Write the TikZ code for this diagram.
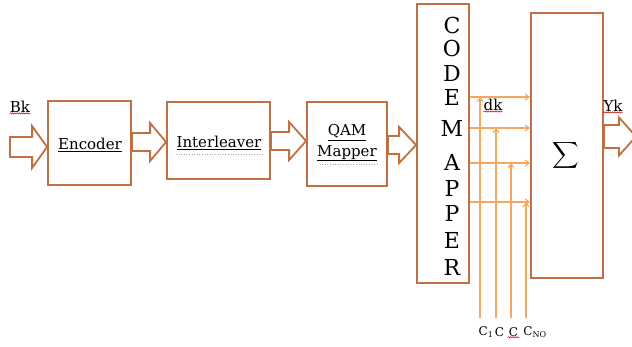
\documentclass[tikz,border=0pt]{standalone}
\usepackage{fontspec}
\usepackage{graphicx}
\setmainfont{DejaVu Serif}
\usetikzlibrary{calc,arrows.meta,decorations.pathmorphing}

\definecolor{boxline}{RGB}{192,112,66}
\definecolor{sigline}{RGB}{244,166,98}

\tikzset{
  block/.style={draw=boxline, line width=1.8pt, fill=white, inner sep=0pt},
  fat/.style={draw=boxline, line width=1.8pt, fill=white, line join=miter},
  sig/.style={draw=sigline, line width=1.1pt, -{Straight Barb[length=4pt,width=6pt]}},
  lbl/.style={inner sep=1pt, font=\fontsize{15}{17}\selectfont},
  blocktext/.style={font=\fontsize{15}{20}\selectfont, align=center},
  spell/.style={draw=red!80!black, line width=0.5pt,
    decorate, decoration={snake, amplitude=0.6pt, segment length=2.2pt}},
  grammar/.style={draw=gray!70, line width=0.6pt, dotted}
}

% hollow block arrow: start, tip, centre y, shaft half-width, head half-width, head length
\newcommand\fatarrow[6]{%
  \draw[fat] let \p1=#1, \p2=#2 in
    (\x1,#3pt-#4pt) -- (\x2-#6pt,#3pt-#4pt) -- (\x2-#6pt,#3pt-#5pt) --
    (\x2,#3pt) -- (\x2-#6pt,#3pt+#5pt) -- (\x2-#6pt,#3pt+#4pt) --
    (\x1,#3pt+#4pt) -- cycle;}

\begin{document}
\begin{tikzpicture}[x=1pt,y=1pt]
\useasboundingbox (0,0) rectangle (632,347);

% processing blocks
\node[block, minimum width=83pt, minimum height=84pt] (enc) at (89.5,204) {};
\node[block, minimum width=103pt, minimum height=77pt] (intl) at (218.5,206.5) {};
\node[block, minimum width=80pt, minimum height=84pt] (qam) at (347,203) {};
\node[block, minimum width=52pt, minimum height=279pt] (cm) at (443,203.5) {};
\node[block, minimum width=72pt, minimum height=265pt] (sum) at (567,201.5) {};

% block captions
\node[blocktext] (enct) at (90,202) {\underline{Encoder}};
\node[blocktext] (intt) at (219,204) {\underline{Interleaver}};
\node[blocktext] (qamt) at (347,204) {\underline{QAM}\\\underline{Mapper}};
\draw[grammar] ([xshift=3pt,yshift=-1pt]intt.south west) -- ([xshift=-3pt,yshift=-1pt]intt.south east);
\draw[grammar] ([xshift=6pt,yshift=0pt]qamt.south west) -- ([xshift=-3pt,yshift=0pt]qamt.south east);

% vertical caption of the code mapper
\foreach \ch/\yy [count=\i] in {C/25,O/48,D/73,E/97,M/128,A/162,P/188,P/213,E/240,R/267}
  \node[font=\fontsize{22}{24}\selectfont, inner sep=0pt] (cmL\i) at (452,347-\yy) {\ch};

% summation symbol
\node[inner sep=0pt] (sig) at (566,192) {\scalebox{1.85}{$\displaystyle\sum$}};

% hollow data-flow arrows
\coordinate (bkin) at (10,200);
\coordinate (ykout) at (636,210.5);
\fatarrow{(bkin)}{(enc.west)}{200}{10}{21}{15}
\fatarrow{(enc.east)}{(intl.west)}{205}{9}{19}{16}
\fatarrow{(intl.east)}{(qam.west)}{206}{9}{19}{17}
\fatarrow{(qam.east)}{(cm.west)}{202}{9}{18}{17}
\fatarrow{(sum.east)}{(ykout)}{210.5}{11.5}{19}{17}

% spreading codes and chip streams
\foreach \xx/\yy [count=\i] in {480/250,496/219,511/184,526/145}{
  \coordinate (h\i) at (500,\yy);
  \coordinate (b\i) at (\xx,29);
  \coordinate (t\i) at (\xx,\yy);
}
\foreach \i in {1,...,4}{
  \draw[sig] (cm.east |- h\i) -- (sum.west |- h\i);
  \draw[sig] (b\i) -- (t\i);
}

% signal labels
\node[lbl] (bk) at (20,240) {Bk};
\node[lbl] (dk) at (493,242) {dk};
\node[lbl] (yk) at (613,241) {Yk};
\draw[spell] ([xshift=1pt,yshift=0.5pt]bk.south west) -- ([xshift=-1pt,yshift=0.5pt]bk.south east);
\draw[spell] ([xshift=1pt,yshift=0.5pt]dk.south west) -- ([xshift=-1pt,yshift=0.5pt]dk.south east);
\draw[spell] ([xshift=1pt,yshift=0.5pt]yk.south west) -- ([xshift=-1pt,yshift=0.5pt]yk.south east);

\tikzset{codelbl/.style={lbl, font=\fontsize{12}{14}\selectfont}}
\node[codelbl] (c1) at (486,15) {C\textsubscript{1}};
\node[codelbl] (c2) at (499.5,15) {C};
\node[codelbl] (c3) at (513.5,15) {C};
\node[codelbl] (c4) at (535,15) {C\textsubscript{NO}};
\draw[spell] ([yshift=0.5pt]c3.south west) -- ([yshift=0.5pt]c3.south east);
\end{tikzpicture}
\end{document}
